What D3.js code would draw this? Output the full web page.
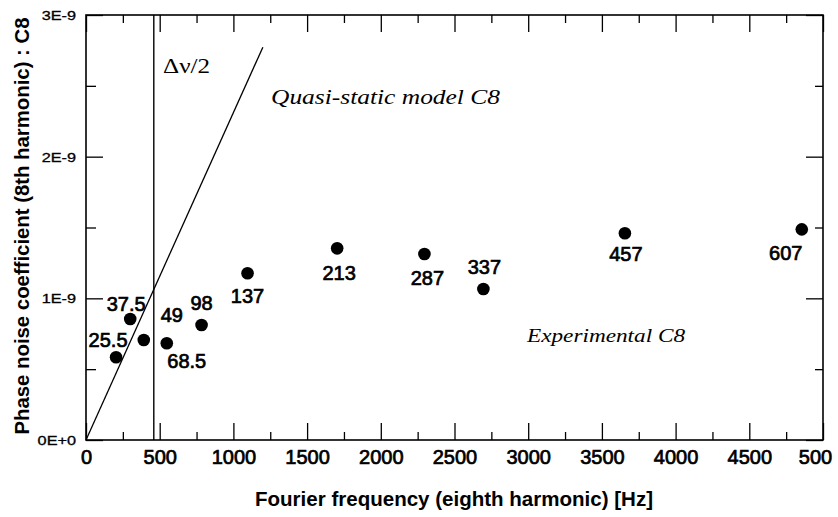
<!DOCTYPE html>
<html><head><meta charset="utf-8">
<script src="https://cdn.jsdelivr.net/npm/d3@7"></script>
<style>body{margin:0;background:#fff}svg{display:block}</style>
</head><body><svg id="c" width="838" height="517"></svg>
<script>
// ---- data ----
const pointLabels = ["25.5","37.5","49","68.5","98","137","213","287","337","457","607"];
const pointFreq = [204, 300, 392, 548, 784, 1096, 1704, 2296, 2696, 3656, 4856];
const pointC8 = [0.584e-9, 0.854e-9, 0.706e-9, 0.683e-9, 0.812e-9, 1.177e-9, 1.353e-9, 1.313e-9, 1.066e-9, 1.459e-9, 1.487e-9];
const modelFreq = [0, 1200];
const modelC8 = [0, 2.773e-9];
const halfLinewidth = 460;
const xMajorTicks = [0,500,1000,1500,2000,2500,3000,3500,4000,4500,5000];
const xTickLabels = ["0","500","1000","1500","2000","2500","3000","3500","4000","4500","500"];
const xMinorTicks = [250,750,1250,1750,2250,2750,3250,3750,4250,4750];
const yMajorTicks = [0,1e-9,2e-9,3e-9];
const yTickLabels = ["0E+0","1E-9","2E-9","3E-9"];
const yMinorTicks = [0.5e-9,1.5e-9,2.5e-9];

// ---- layout (label placement relative to dots, px) ----
const labelOffsets = [[-8,-10],[-4,-8],[28,-18],[20,25],[0,-15],[0,30],[2,32],[3,31],[1,-15],[1,28],[-16,31]];

const svg = d3.select("#c");
const L=86, R=823, T=15, B=440;
const x = d3.scaleLinear().domain([0,5000]).range([L,R]);
const y = d3.scaleLinear().domain([0,3e-9]).range([B,T]);
const ink = "#000";
const sans = "Liberation Sans, Arial, sans-serif";
const serif = "Liberation Serif, Times New Roman, serif";

// bottom axis
const gB = svg.append("g").attr("transform",`translate(0,${B})`);
gB.call(d3.axisBottom(x).tickValues(xMajorTicks).tickSizeInner(-17).tickSizeOuter(0).tickPadding(10)
  .tickFormat((d,i)=>xTickLabels[i]));
gB.append("g").call(d3.axisBottom(x).tickValues(xMinorTicks).tickSizeInner(-8).tickSizeOuter(0).tickFormat(""));
// top axis
const gT = svg.append("g").attr("transform",`translate(0,${T})`);
gT.call(d3.axisTop(x).tickValues(xMajorTicks).tickSizeInner(-17).tickSizeOuter(0).tickFormat(""));
gT.append("g").call(d3.axisTop(x).tickValues(xMinorTicks).tickSizeInner(-8).tickSizeOuter(0).tickFormat(""));
// left axis
const gL = svg.append("g").attr("transform",`translate(${L},0)`);
gL.call(d3.axisLeft(y).tickValues(yMajorTicks).tickSizeInner(-17).tickSizeOuter(0).tickPadding(10)
  .tickFormat((d,i)=>yTickLabels[i]));
gL.append("g").call(d3.axisLeft(y).tickValues(yMinorTicks).tickSizeInner(-10).tickSizeOuter(0).tickFormat(""));
// right axis
const gR = svg.append("g").attr("transform",`translate(${R},0)`);
gR.call(d3.axisRight(y).tickValues(yMajorTicks).tickSizeInner(-17).tickSizeOuter(0).tickFormat(""));
gR.append("g").call(d3.axisRight(y).tickValues(yMinorTicks).tickSizeInner(-8).tickSizeOuter(0).tickFormat(""));

svg.selectAll(".domain").remove();
svg.selectAll(".tick line").attr("stroke",ink).attr("stroke-width",1.3);

gB.selectAll(".tick text").attr("font-family",sans)
  .attr("font-size",20).attr("fill",ink).attr("stroke",ink).attr("stroke-width",0.7)
  .attr("dx",(d,i)=>i===xMajorTicks.length-1?-8:0);
gL.selectAll(".tick text").attr("font-family",sans)
  .attr("font-size",12.5).attr("fill",ink).attr("stroke",ink).attr("stroke-width",0.3).attr("dy","0.36em")
  .each(function(){const w=this.getComputedTextLength(); d3.select(this).attr("textLength",w*1.3).attr("lengthAdjust","spacingAndGlyphs");});

// frame
svg.append("rect").attr("x",L).attr("y",T).attr("width",R-L).attr("height",B-T)
  .attr("fill","none").attr("stroke",ink).attr("stroke-width",1.6);

// delta nu / 2 vertical line
svg.append("line").attr("x1",x(halfLinewidth)).attr("x2",x(halfLinewidth)).attr("y1",T).attr("y2",B)
  .attr("stroke",ink).attr("stroke-width",1.4);

// quasi-static model line
const line = d3.line().x(d=>x(d[0])).y(d=>y(d[1]));
svg.append("path").datum(modelFreq.map((f,i)=>[f,modelC8[i]])).attr("d",line)
  .attr("fill","none").attr("stroke",ink).attr("stroke-width",1.3);

// points
const pts = pointFreq.map((f,i)=>({f,c:pointC8[i],lab:pointLabels[i],off:labelOffsets[i]}));
svg.append("g").selectAll("circle").data(pts).join("circle")
  .attr("cx",d=>x(d.f)).attr("cy",d=>y(d.c)).attr("r",6.3).attr("fill",ink);
svg.append("g").selectAll("text").data(pts).join("text")
  .attr("x",d=>x(d.f)+d.off[0]).attr("y",d=>y(d.c)+d.off[1])
  .attr("text-anchor","middle").attr("font-family",sans)
  .attr("font-size",20).attr("fill",ink).attr("stroke",ink).attr("stroke-width",0.7).text(d=>d.lab);

// annotations
svg.append("text").attr("x",163).attr("y",73).attr("font-family",serif)
  .attr("font-size",22).attr("fill",ink).attr("textLength",47).attr("lengthAdjust","spacingAndGlyphs").text("Δν/2");
svg.append("text").attr("x",271).attr("y",104).attr("font-family",serif)
  .attr("font-size",20).attr("font-style","italic").attr("fill",ink)
  .attr("textLength",229).attr("lengthAdjust","spacingAndGlyphs").text("Quasi-static model C8");
svg.append("text").attr("x",527).attr("y",342).attr("font-family",serif)
  .attr("font-size",18).attr("font-style","italic").attr("fill",ink)
  .attr("textLength",158).attr("lengthAdjust","spacingAndGlyphs").text("Experimental C8");

// axis titles
svg.append("text").attr("x",454).attr("y",506).attr("text-anchor","middle")
  .attr("font-family",sans).attr("font-size",20).attr("font-weight","bold")
  .attr("fill",ink).attr("textLength",398).attr("lengthAdjust","spacingAndGlyphs")
  .text("Fourier frequency (eighth harmonic) [Hz]");
svg.append("text").attr("transform","translate(29,226) rotate(-90)").attr("text-anchor","middle")
  .attr("font-family",sans).attr("font-size",20).attr("font-weight","bold")
  .attr("fill",ink).attr("textLength",417).attr("lengthAdjust","spacingAndGlyphs")
  .text("Phase noise coefficient (8th harmonic) : C8");
</script></body></html>
